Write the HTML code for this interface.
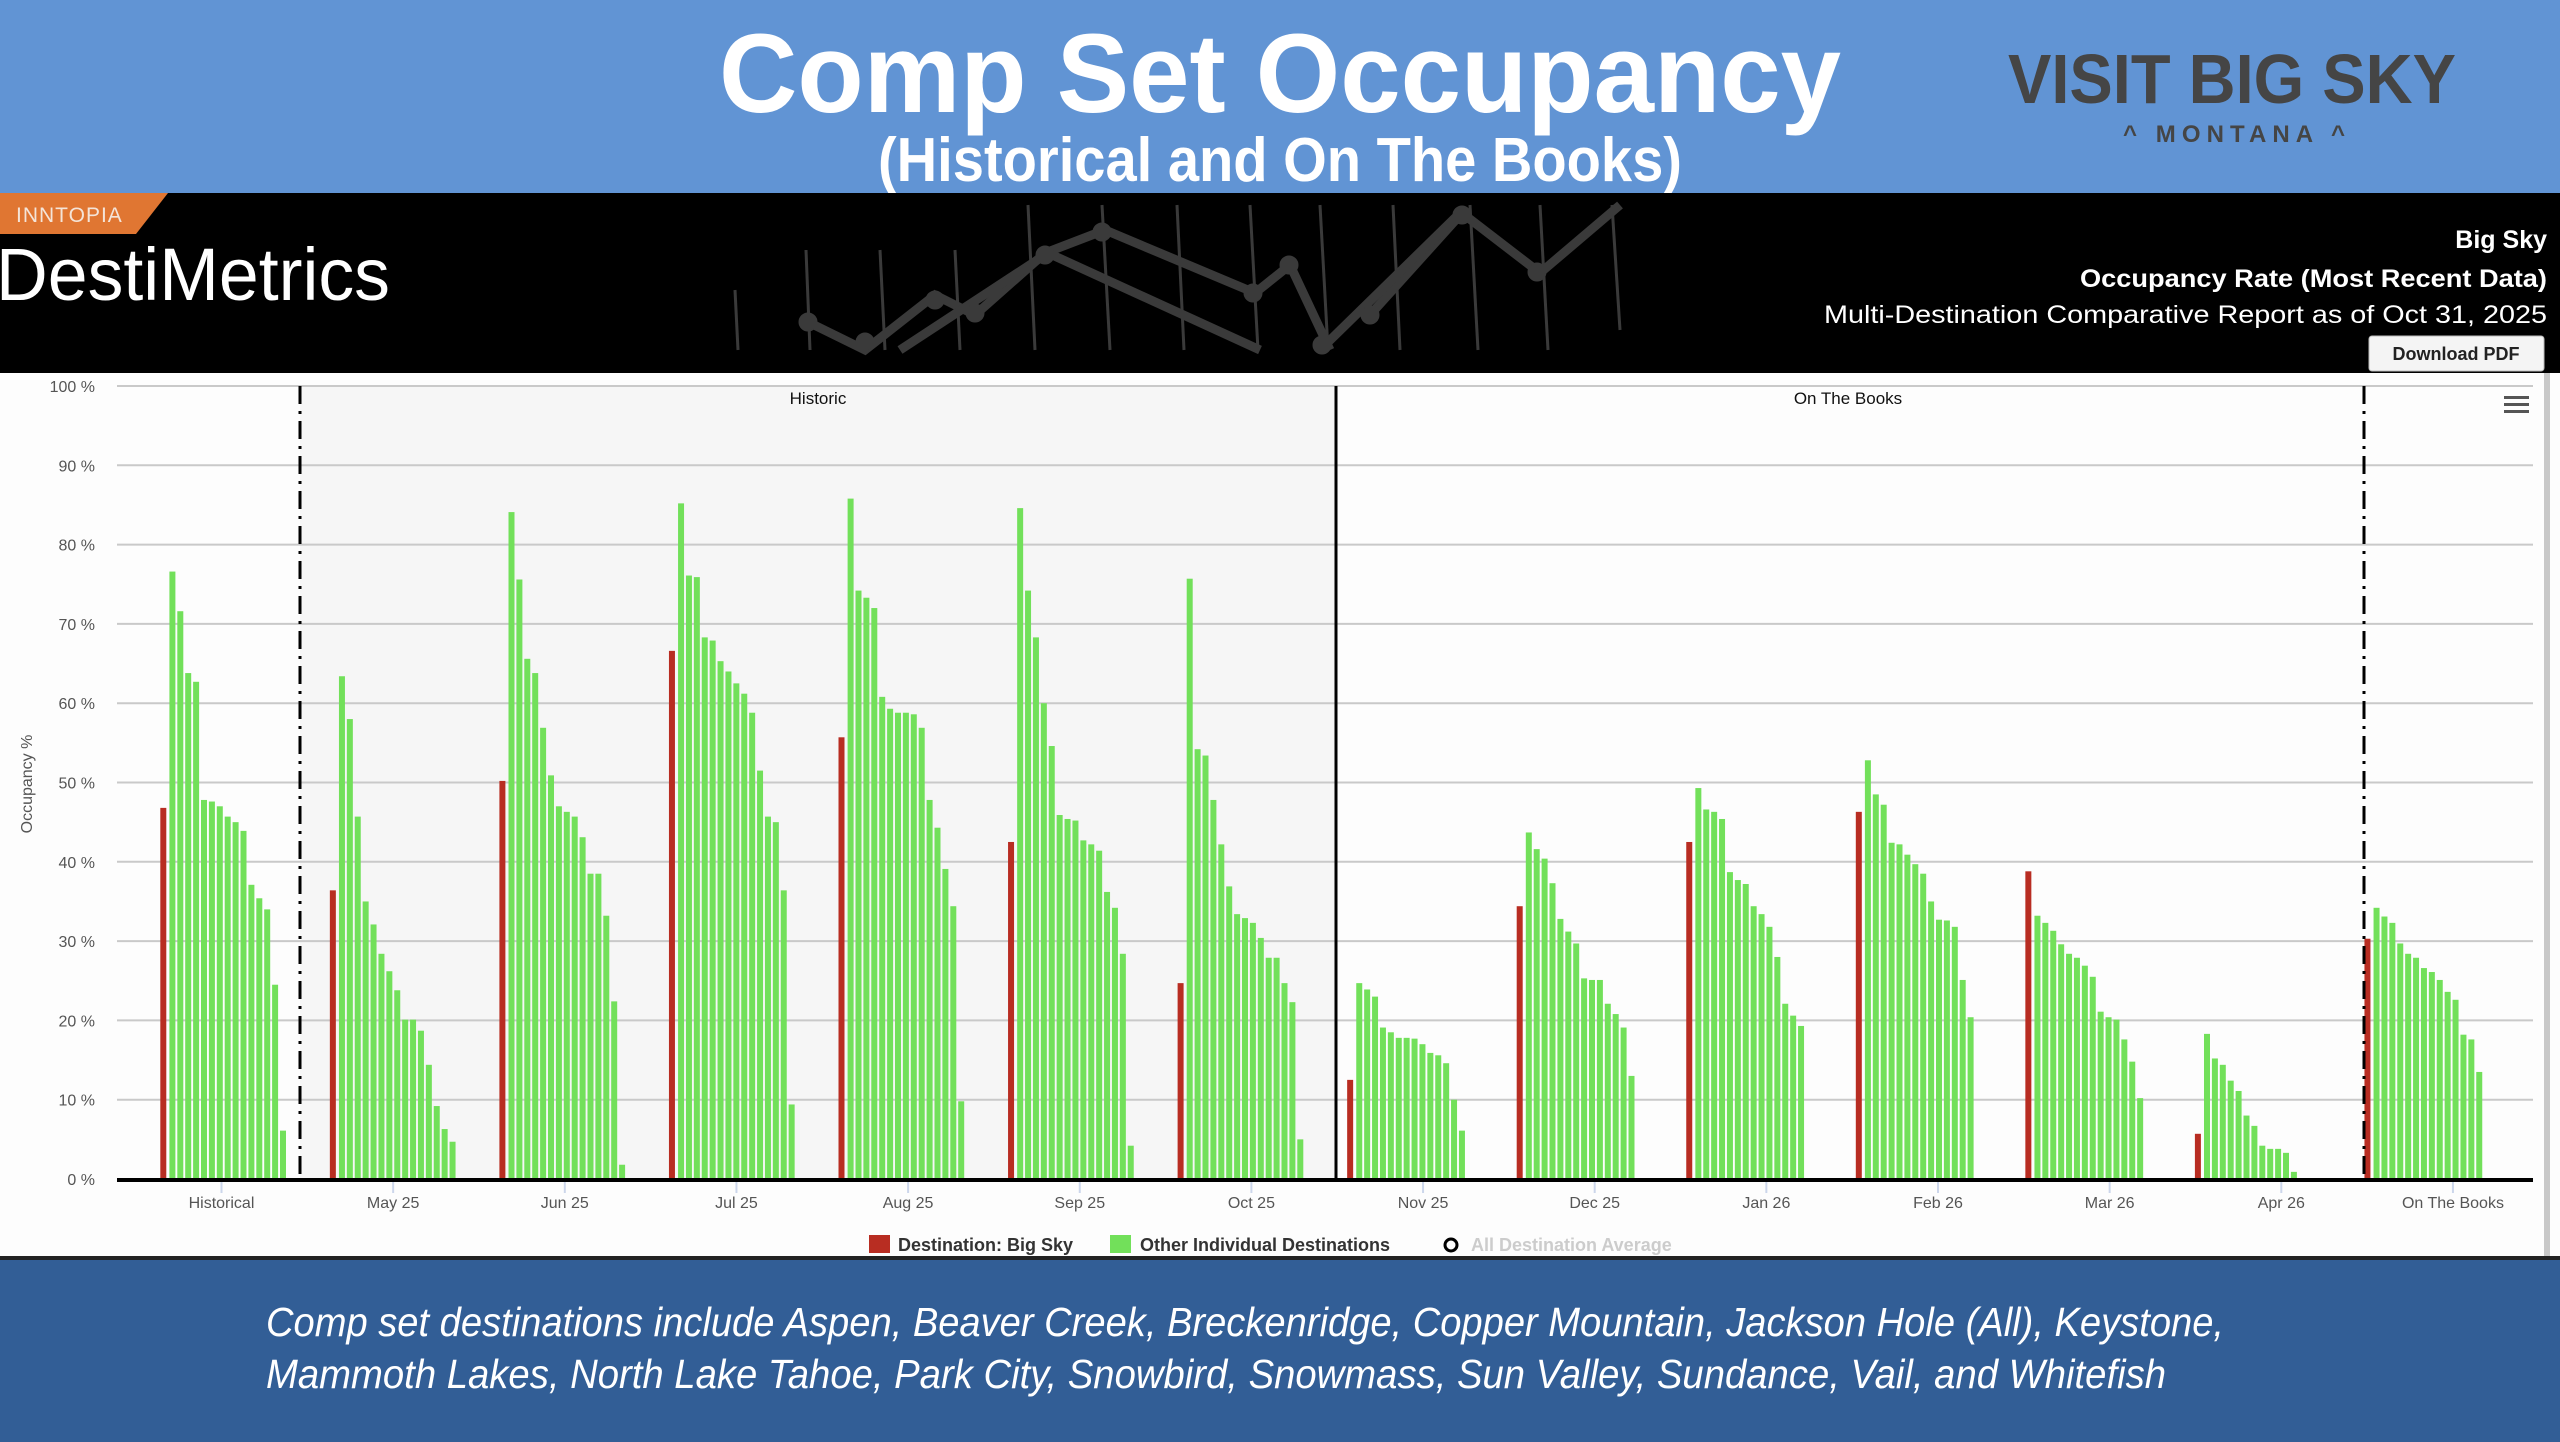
<!DOCTYPE html>
<html><head><meta charset="utf-8"><style>
html,body{margin:0;padding:0;background:#fff;}
svg{display:block;}
</style></head>
<body>
<svg id="root" width="2560" height="1442" viewBox="0 0 2560 1442" xmlns="http://www.w3.org/2000/svg" font-family="Liberation Sans, sans-serif">
  <rect x="0" y="0" width="2560" height="193" fill="#6194d4"/>
  <text x="1280" y="112" text-anchor="middle" font-size="112" font-weight="bold" fill="#fff" textLength="1122" lengthAdjust="spacingAndGlyphs">Comp Set Occupancy</text>
  <text x="1280" y="181" text-anchor="middle" font-size="62" font-weight="bold" fill="#fff" textLength="804" lengthAdjust="spacingAndGlyphs">(Historical and On The Books)</text>
  <g fill="#454545">
    <text x="2232" y="103" text-anchor="middle" font-size="70" font-weight="bold" textLength="448" lengthAdjust="spacingAndGlyphs">VISIT BIG SKY</text>
    <text x="2234" y="142" text-anchor="middle" font-size="24" font-weight="bold" textLength="222" lengthAdjust="spacing">^ MONTANA ^</text>
  </g>
  <rect x="0" y="193" width="2560" height="180" fill="#000"/>
  <polygon points="0,193 168,193 136,234 0,234" fill="#e07632"/>
  <text x="16" y="222" font-size="21" fill="#f4e4d8" letter-spacing="1">INNTOPIA</text>
  <text x="-4" y="300" font-size="74" fill="#fff" font-weight="300" textLength="394" lengthAdjust="spacingAndGlyphs">DestiMetrics</text>
  <g stroke="#3a3a3a" fill="#3a3a3a">
    <g stroke-width="3">
      <line x1="735" y1="290" x2="738" y2="350"/><line x1="806" y1="250" x2="810" y2="350"/>
      <line x1="880" y1="250" x2="885" y2="350"/><line x1="955" y1="250" x2="960" y2="350"/>
      <line x1="1028" y1="205" x2="1035" y2="350"/><line x1="1102" y1="205" x2="1110" y2="350"/>
      <line x1="1177" y1="205" x2="1184" y2="350"/><line x1="1250" y1="205" x2="1258" y2="350"/>
      <line x1="1320" y1="205" x2="1328" y2="350"/><line x1="1393" y1="205" x2="1400" y2="350"/>
      <line x1="1470" y1="205" x2="1478" y2="350"/><line x1="1540" y1="205" x2="1548" y2="350"/>
      <line x1="1612" y1="205" x2="1620" y2="330"/>
    </g>
    <polyline fill="none" stroke-width="9" points="808,322 865,350 935,295 975,315 1045,253 1105,230 1255,293 1290,265 1330,350"/>
    <polyline fill="none" stroke-width="9" points="900,350 1048,253 1260,350"/>
    <polyline fill="none" stroke-width="9" points="1370,315 1462,213 1540,273 1620,205"/>
    <polyline fill="none" stroke-width="9" points="1320,350 1460,213"/>
    <circle cx="808" cy="322" r="9"/><circle cx="865" cy="342" r="9"/><circle cx="935" cy="300" r="9"/>
    <circle cx="975" cy="313" r="9"/><circle cx="1045" cy="255" r="9"/><circle cx="1102" cy="232" r="9"/>
    <circle cx="1253" cy="293" r="9"/><circle cx="1289" cy="265" r="9"/><circle cx="1370" cy="315" r="9"/>
    <circle cx="1462" cy="215" r="9"/><circle cx="1537" cy="272" r="9"/><circle cx="1322" cy="345" r="9"/>
  </g>
  <text x="2547" y="248" text-anchor="end" font-size="25" font-weight="bold" fill="#fff">Big Sky</text>
  <text x="2547" y="287" text-anchor="end" font-size="25" font-weight="bold" fill="#fff" textLength="467" lengthAdjust="spacingAndGlyphs">Occupancy Rate (Most Recent Data)</text>
  <text x="2547" y="323" text-anchor="end" font-size="25" fill="#fff" textLength="723" lengthAdjust="spacingAndGlyphs">Multi-Destination Comparative Report as of Oct 31, 2025</text>
  <g>
    <rect x="2369" y="336" width="175" height="35" rx="3" fill="#f4f4f4" stroke="#bbb"/>
    <text x="2456" y="360" text-anchor="middle" font-size="18" font-weight="bold" fill="#222">Download PDF</text>
  </g>
  <rect x="0" y="373" width="2560" height="885" fill="#fdfdfd"/>
  <rect x="2544" y="373" width="6" height="885" fill="#c8c8c8"/>
  <g id="chart"></g>
  <rect x="0" y="1256" width="2560" height="4" fill="#222"/>
  <rect x="0" y="1260" width="2560" height="182" fill="#325e96"/>
  <text x="266" y="1336" font-size="41" font-style="italic" fill="#fff" textLength="1958" lengthAdjust="spacingAndGlyphs">Comp set destinations include Aspen, Beaver Creek, Breckenridge, Copper Mountain, Jackson Hole (All), Keystone,</text>
  <text x="266" y="1388" font-size="41" font-style="italic" fill="#fff" textLength="1900" lengthAdjust="spacingAndGlyphs">Mammoth Lakes, North Lake Tahoe, Park City, Snowbird, Snowmass, Sun Valley, Sundance, Vail, and Whitefish</text>
</svg>
<script>
// ---- data ----
const categories = ["Historical","May 25","Jun 25","Jul 25","Aug 25","Sep 25","Oct 25","Nov 25","Dec 25","Jan 26","Feb 26","Mar 26","Apr 26","On The Books"];
const bigSky = [46.8,36.4,50.2,66.6,55.7,42.5,24.7,12.5,34.4,42.5,46.3,38.8,5.7,30.3];
const others = [
  [76.6,71.6,63.8,62.7,47.8,47.6,47.0,45.7,45.0,43.9,37.1,35.4,34.0,24.5,6.1],
  [63.4,58.0,45.7,35.0,32.1,28.4,26.2,23.8,20.1,20.1,18.7,14.4,9.2,6.3,4.7],
  [84.1,75.6,65.6,63.8,56.9,50.9,47.0,46.3,45.7,43.1,38.5,38.5,33.2,22.4,1.8],
  [85.2,76.1,75.9,68.3,67.9,65.3,64.0,62.5,61.2,58.8,51.5,45.7,45.0,36.4,9.4],
  [85.8,74.2,73.3,72.0,60.8,59.3,58.8,58.8,58.6,56.9,47.8,44.3,39.1,34.4,9.8],
  [84.6,74.2,68.3,60.0,54.6,45.9,45.4,45.2,42.7,42.2,41.4,36.2,34.2,28.4,4.2],
  [75.7,54.2,53.4,47.8,42.2,36.9,33.4,32.9,32.3,30.4,27.9,27.9,24.7,22.3,5.0],
  [24.7,23.9,23.0,19.1,18.5,17.8,17.8,17.7,17.0,15.9,15.6,14.6,10.0,6.1],
  [43.7,41.6,40.4,37.3,32.8,31.2,29.7,25.3,25.1,25.1,22.1,20.8,19.1,13.0],
  [49.3,46.6,46.3,45.4,38.7,37.7,37.2,34.4,33.4,31.8,28.0,22.1,20.6,19.3],
  [52.8,48.5,47.2,42.4,42.2,40.9,39.7,38.5,35.0,32.7,32.6,31.8,25.1,20.4],
  [33.2,32.3,31.3,29.6,28.4,27.9,26.9,25.5,21.1,20.4,20.1,17.6,14.8,10.2],
  [18.3,15.2,14.4,12.4,11.1,8.0,6.7,4.2,3.8,3.8,3.3,0.9],
  [34.2,33.1,32.3,29.7,28.4,27.9,26.6,26.1,25.1,23.6,22.6,18.2,17.6,13.5]
];
const yTicks = [0,10,20,30,40,50,60,70,80,90,100];

// ---- layout ----
const NS = "http://www.w3.org/2000/svg";
const g = document.getElementById("chart");
const X0 = 117, X1 = 2533, Y0 = 1179, Y100 = 386;
const firstCenter = 221.5, groupStep = 171.65;
const firstBar = 163.3, barGroupStep = 169.55, slotStep = 7.9, barW = 6;
function yScale(v){ return Y0 - (Y0 - Y100) * v / 100; }
function xCenter(i){ return firstCenter + i * groupStep; }
function xBar(i, k){ return firstBar + i * barGroupStep + (k === 0 ? 0 : 1.2 + k * slotStep); }
function mk(tag, attrs, parent){
  const e = document.createElementNS(NS, tag);
  for (const k in attrs) e.setAttribute(k, attrs[k]);
  (parent || g).appendChild(e);
  return e;
}
const histLeft = 300, divider = 1336, otbLeft = 2364;

let sh = mk("rect", {x: histLeft, y: Y100, width: divider - histLeft, height: Y0 - Y100, fill: "#f6f6f6"});



yTicks.forEach(t => {
  const y = yScale(t);
  let l = mk("line", {x1: X0, x2: X1, y1: y, y2: y, stroke: "#c9c9c9", "stroke-width": 2});
  
  
  let tx = mk("text", {x: 95, y: y + 6, "text-anchor": "end", "font-size": 16, fill: "#555"});
  tx.textContent = t + " %";
  
  
});
let yt = mk("text", {x: 32, y: 784, "text-anchor": "middle", "font-size": 16, fill: "#555", transform: "rotate(-90 32 784)"});
yt.textContent = "Occupancy %";



categories.forEach((cat, i) => {
  const c = xCenter(i);
  const vals = [bigSky[i]].concat(others[i]);
  vals.forEach((v, k) => {
    const cx = xBar(i, k);
    const y = yScale(v);
    const r = mk("rect", {x: cx - barW / 2, y: y, width: barW, height: Y0 - y, fill: k === 0 ? "#b82d22" : "#72e05a"});
    
    
  });
  let tk = mk("line", {x1: c, x2: c, y1: Y0, y2: Y0 + 14, stroke: "#ccd6eb", "stroke-width": 2});
  
  
  let lb = mk("text", {x: c, y: 1208, "text-anchor": "middle", "font-size": 16, fill: "#555"});
  lb.textContent = cat;
  
  
});

let ax = mk("line", {x1: X0, x2: X1, y1: Y0 + 1, y2: Y0 + 1, stroke: "#000", "stroke-width": 4});


[histLeft, otbLeft].forEach((x, j) => {
  let d = mk("line", {x1: x, x2: x, y1: Y100, y2: Y0, stroke: "#000", "stroke-width": 3, "stroke-dasharray": "18,7,3,7"});
  
  
});
let dv = mk("line", {x1: divider, x2: divider, y1: Y100, y2: Y0, stroke: "#000", "stroke-width": 3});


[["Historic", 818, 'historic-label'], ["On The Books", 1848, 'on-the-books-label']].forEach(a => {
  let t = mk("text", {x: a[1], y: 404, "text-anchor": "middle", "font-size": 17, fill: "#111"});
  t.textContent = a[0];
  
  
});

let menu = mk("g", {});


[396, 403, 410].forEach(y => mk("rect", {x: 2504, y: y, width: 25, height: 3, fill: "#555"}, menu));

let lg1 = mk("g", {});


mk("rect", {x: 869, y: 1235, width: 21, height: 18, fill: "#b82d22"}, lg1);
let t1 = mk("text", {x: 898, y: 1251, "font-size": 18, "font-weight": "bold", fill: "#333"}, lg1);
t1.textContent = "Destination: Big Sky";
let lg2 = mk("g", {});


mk("rect", {x: 1110, y: 1235, width: 21, height: 18, fill: "#72e05a"}, lg2);
let t2 = mk("text", {x: 1140, y: 1251, "font-size": 18, "font-weight": "bold", fill: "#333"}, lg2);
t2.textContent = "Other Individual Destinations";
let lg3 = mk("g", {});


mk("circle", {cx: 1451, cy: 1245, r: 6, fill: "none", stroke: "#000", "stroke-width": 3}, lg3);
let t3 = mk("text", {x: 1471, y: 1251, "font-size": 18, "font-weight": "bold", fill: "#ccc"}, lg3);
t3.textContent = "All Destination Average";
</script>
</body></html>
